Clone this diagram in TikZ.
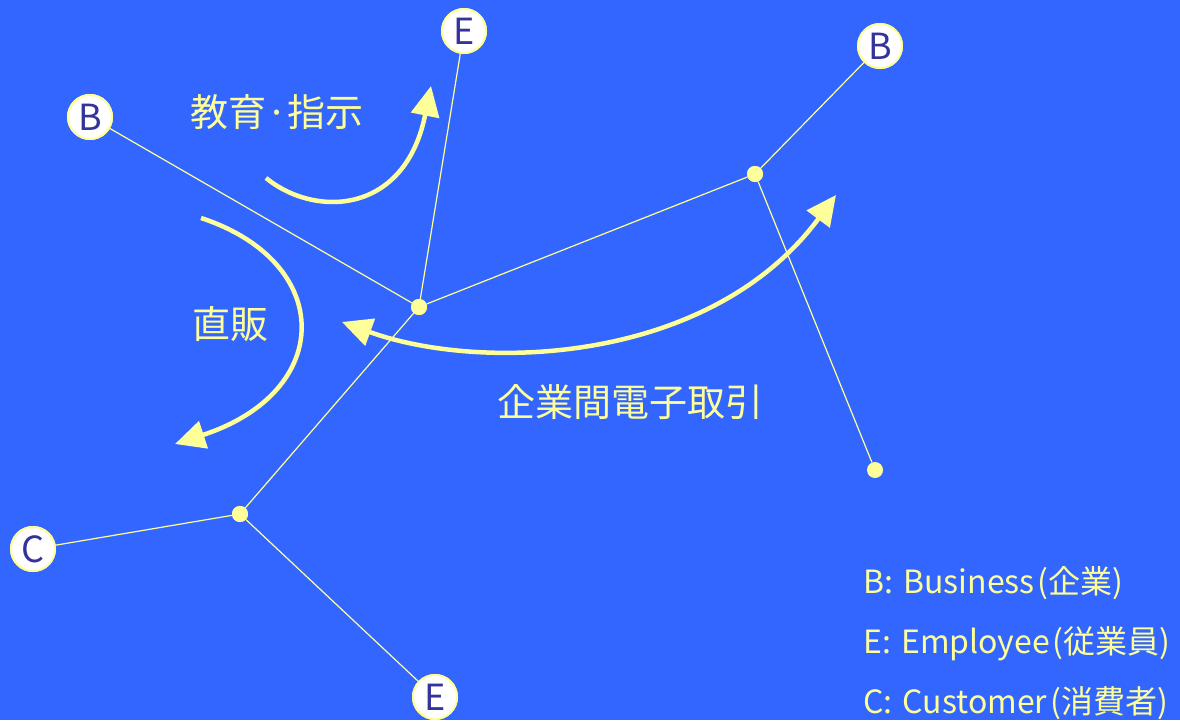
\documentclass[tikz,border=0pt]{standalone}
\usepackage{fontspec}
\setmainfont{Noto Sans CJK JP}
\newfontfamily\jpf{Noto Sans CJK JP}
\usetikzlibrary{arrows.meta}
\definecolor{bg}{HTML}{3366FF}
\definecolor{yel}{HTML}{FFFF99}
\definecolor{ink}{HTML}{333399}
\tikzset{
  ent/.style={circle,draw=yel,line width=2pt,fill=white,minimum size=44pt,inner sep=0pt,text=ink,font=\jpf\fontsize{36}{36}\selectfont},
  hub/.style={circle,fill=yel,minimum size=16pt,inner sep=0pt},
  link/.style={draw=yel,line width=1.2pt},
  flow/.style={draw=yel,line width=4.5pt,-{Triangle[length=30pt,width=28pt]}},
  lab/.style={text=yel,font=\jpf\fontsize{38}{38}\selectfont},
  leg/.style={text=yel,anchor=base west,font=\jpf\fontsize{32}{32}\selectfont}
}
\begin{document}
\begin{tikzpicture}[x=1pt,y=-1pt]
\fill[bg] (0,0) rectangle (1180,720);
\useasboundingbox (0,0) rectangle (1180,720);
% hubs
\node[hub] (h0) at (419,307) {};
\node[hub] (h1) at (755,174) {};
\node[hub] (h2) at (240,514) {};
\node[hub] (h3) at (875,470) {};
% entities
\node[ent] (b1) at (90,117) {B};
\node[ent] (e1) at (464,31) {E};
\node[ent] (b2) at (880,46) {B};
\node[ent] (c1) at (33,549) {C};
\node[ent] (e2) at (435,697) {E};
% links
\draw[link] (b1) -- (h0);
\draw[link] (e1) -- (h0);
\draw[link] (h0) -- (h1);
\draw[link] (h1) -- (b2);
\draw[link] (h1) -- (h3);
\draw[link] (h0) -- (h2);
\draw[link] (h2) -- (c1);
\draw[link] (h2) -- (e2);
% redraw nodes on top
\node[ent] at (90,117) {B};
\node[ent] at (464,31) {E};
\node[ent] at (880,46) {B};
\node[ent] at (33,549) {C};
\node[ent] at (435,697) {E};
\node[hub] at (419,307) {};
\node[hub] at (755,174) {};
\node[hub] at (240,514) {};
% flows
\coordinate (a1s) at (266,178);
\coordinate (a1e) at (431,86);
\coordinate (a2s) at (201,218);
\coordinate (a2e) at (175,444);
\coordinate (a3s) at (342,322);
\coordinate (a3e) at (836,195);
\draw[flow] (a1s) .. controls (315,218) and (405,215) .. (a1e);
\draw[flow] (a2s) .. controls (335,262) and (335,392) .. (a2e);
\draw[flow,{Triangle[length=30pt,width=28pt]}-{Triangle[length=30pt,width=28pt]}] (a3s) .. controls (480,372) and (710,365) .. (a3e);
% labels
\node[lab] (t1) at (277,112) {教育·指示};
\node[lab] (t2) at (230,324) {直販};
\node[lab] (t3) at (630,402) {企業間電子取引};
% legend
\node[leg] (l1) at (860,593) {B:\hspace{10pt}Business\hspace{3pt}(企業)};
\node[leg] (l2) at (860,653) {E:\hspace{10pt}Employee\hspace{3pt}(従業員)};
\node[leg] (l3) at (860,713) {C:\hspace{10pt}Customer\hspace{3pt}(消費者)};
\end{tikzpicture}
\end{document}
